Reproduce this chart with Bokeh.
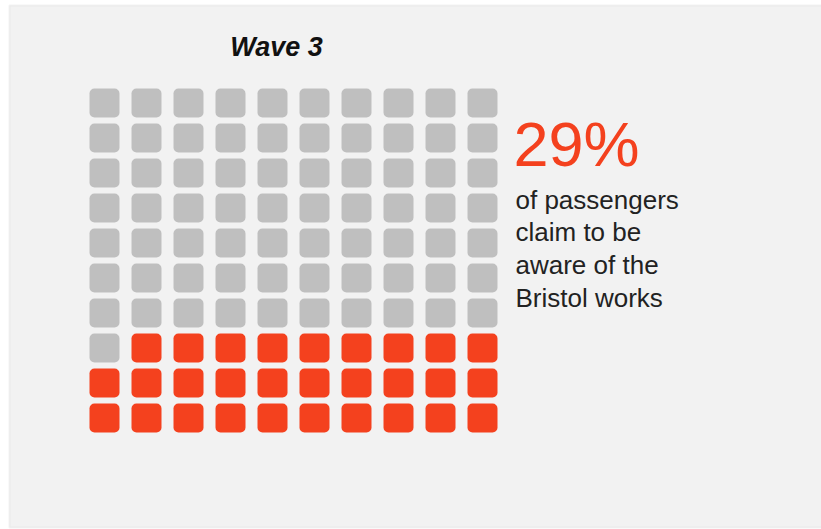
from bokeh.plotting import figure
from bokeh.models import ColumnDataSource, BoxAnnotation
from bokeh.core.properties import value
from bokeh.embed import file_html
from bokeh.resources import INLINE

# ---- data ----
title = "Wave 3"
percent = 29
n_cols = 10
n_rows = 10
headline = "29%"
caption_lines = ["of passengers", "claim to be", "aware of the", "Bristol works"]

RED = "#f4411e"
GREY = "#bfbfbf"

# ---- layout constants (pixels) ----
W, H = 821, 529
x0, y0 = 89, 88          # top-left of first cell
px, py = 42, 35          # pitch
cw, ch = 30, 29          # cell size

cols, rows, colors = [], [], []
for r in range(n_rows):            # r = 0 top
    for c in range(n_cols):
        cols.append(c)
        rows.append(r)
        rank = (n_rows - 1 - r) * n_cols + (n_cols - 1 - c)
        colors.append(RED if rank < percent else GREY)

src = ColumnDataSource(dict(
    left=[x0 + c * px for c in cols],
    right=[x0 + c * px + cw for c in cols],
    top=[y0 + r * py for r in rows],
    bottom=[y0 + r * py + ch for r in rows],
    color=colors,
))

p = figure(width=W, height=H, x_range=(0, W), y_range=(H, 0),
           output_backend="svg", toolbar_location=None, min_border=0)
p.axis.visible = False
p.grid.visible = False
p.outline_line_color = None
p.background_fill_color = "white"
p.border_fill_color = "white"

p.add_layout(BoxAnnotation(left=9, right=W + 10, top=5, bottom=527,
                           fill_color="#f2f2f2", fill_alpha=1,
                           line_color="#d6d6d6", line_width=2, level="underlay"))

p.quad(left="left", right="right", top="top", bottom="bottom", source=src,
       fill_color="color", line_color=None, border_radius=5)

p.text(x=[276], y=[46], text=[title], text_font=value("Liberation Sans"),
       text_font_size="27px", text_font_style="bold italic", text_color="#111111",
       text_align="center", text_baseline="middle")

p.text(x=[513], y=[143.5], text=[headline], text_font=value("Liberation Sans"),
       text_font_size="63px", text_color=RED, text_align="left",
       text_baseline="alphabetic")

p.text(x=[515] * len(caption_lines), y=[199 + i * 32.7 for i in range(len(caption_lines))],
       text=caption_lines, text_font=value("Liberation Sans"), text_font_size="26px",
       text_color="#222222", text_align="left", text_baseline="alphabetic")

open("out.html", "w").write(file_html(p, INLINE))
